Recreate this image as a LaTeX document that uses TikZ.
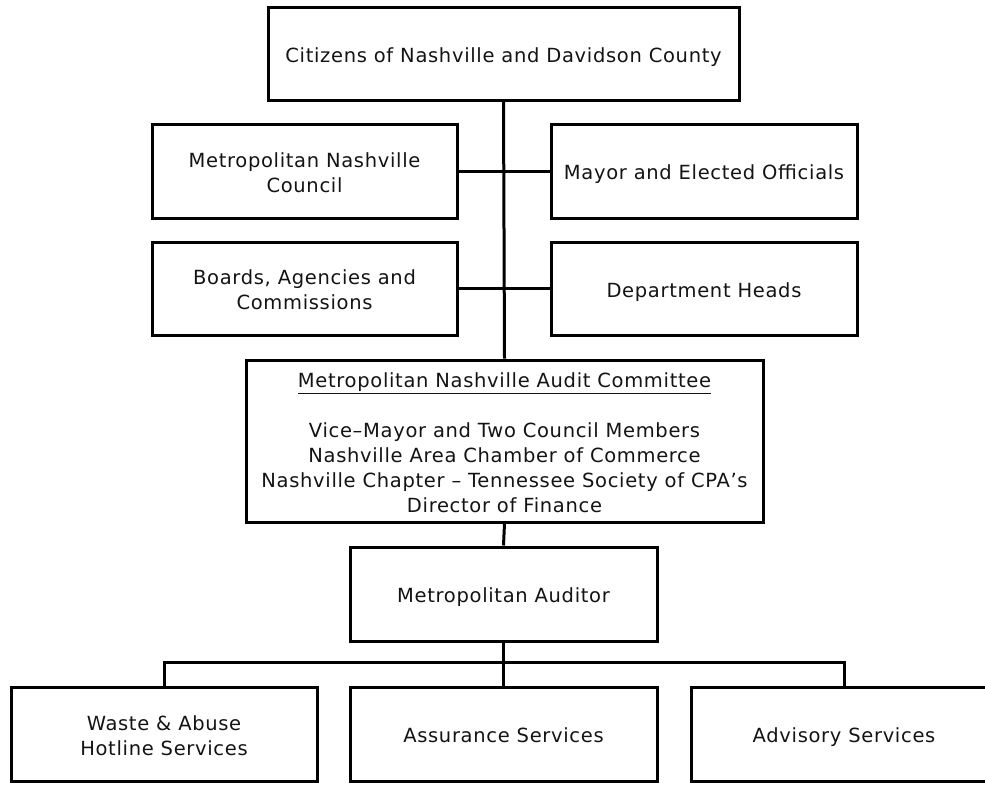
\documentclass[tikz,border=0pt]{standalone}
\usepackage{fontspec}
\setmainfont{DejaVu Sans}[LetterSpace=3.5]
\newcommand\topstrut{\rule{0pt}{22pt}}
\newcommand\botstrut{\rule[-4.6pt]{0pt}{4.6pt}}
\newcommand\lines[1]{\begin{tabular}{@{}c@{}}\rule{0pt}{25pt}#1\end{tabular}}
\begin{document}
\begin{tikzpicture}[x=1pt,y=-1pt,
  box/.style={draw=black, line width=3pt, rectangle, inner sep=0pt,
    text=black!92, font=\fontsize{19.5}{25}\selectfont,
    execute at begin node=\topstrut, execute at end node=\botstrut},
  conn/.style={draw=black, line width=3pt, line join=miter}]
\clip (0,0) rectangle (985,785);
\fill[white] (0,0) rectangle (985,785);
\node[box, minimum width=471pt, minimum height=93pt] (cit) at (503.5,53.5) {Citizens of Nashville and Davidson County};
\node[box, minimum width=305pt, minimum height=94pt] (council) at (304.5,171) {\lines{Metropolitan Nashville\\Council}};
\node[box, minimum width=306pt, minimum height=94pt] (mayor) at (704,171) {Mayor and Elected Officials};
\node[box, minimum width=305pt, minimum height=93pt] (boards) at (304.5,288.5) {\lines{Boards, Agencies and\\Commissions}};
\node[box, minimum width=306pt, minimum height=93pt] (dept) at (704,288.5) {Department Heads};
\node[box, minimum width=517pt, minimum height=162pt] (audit) at (504.5,441) {\lines{\underline{Metropolitan Nashville Audit Committee}\\[25pt]Vice–Mayor and Two Council Members\\Nashville Area Chamber of Commerce\\Nashville Chapter – Tennessee Society of CPA’s\\Director of Finance}};
\node[box, minimum width=307pt, minimum height=94pt] (auditor) at (503.5,594) {Metropolitan Auditor};
\node[box, minimum width=306pt, minimum height=94pt] (waste) at (164,734) {\lines{Waste \& Abuse\\Hotline Services}};
\node[box, minimum width=307pt, minimum height=94pt] (assur) at (503.5,734) {Assurance Services};
\node[box, minimum width=306pt, minimum height=94pt] (adv) at (844,734) {Advisory Services};
\draw[conn] (cit.south) -- (audit.north);
\draw[conn] (council.east) -- (mayor.west);
\draw[conn] (boards.east) -- (dept.west);
\draw[conn] (audit.south) -- (auditor.north);
\draw[conn] (auditor.south) -- (assur.north);
\draw[conn] (waste.north) -- ++(0,-23) -| (adv.north);
\end{tikzpicture}
\end{document}
